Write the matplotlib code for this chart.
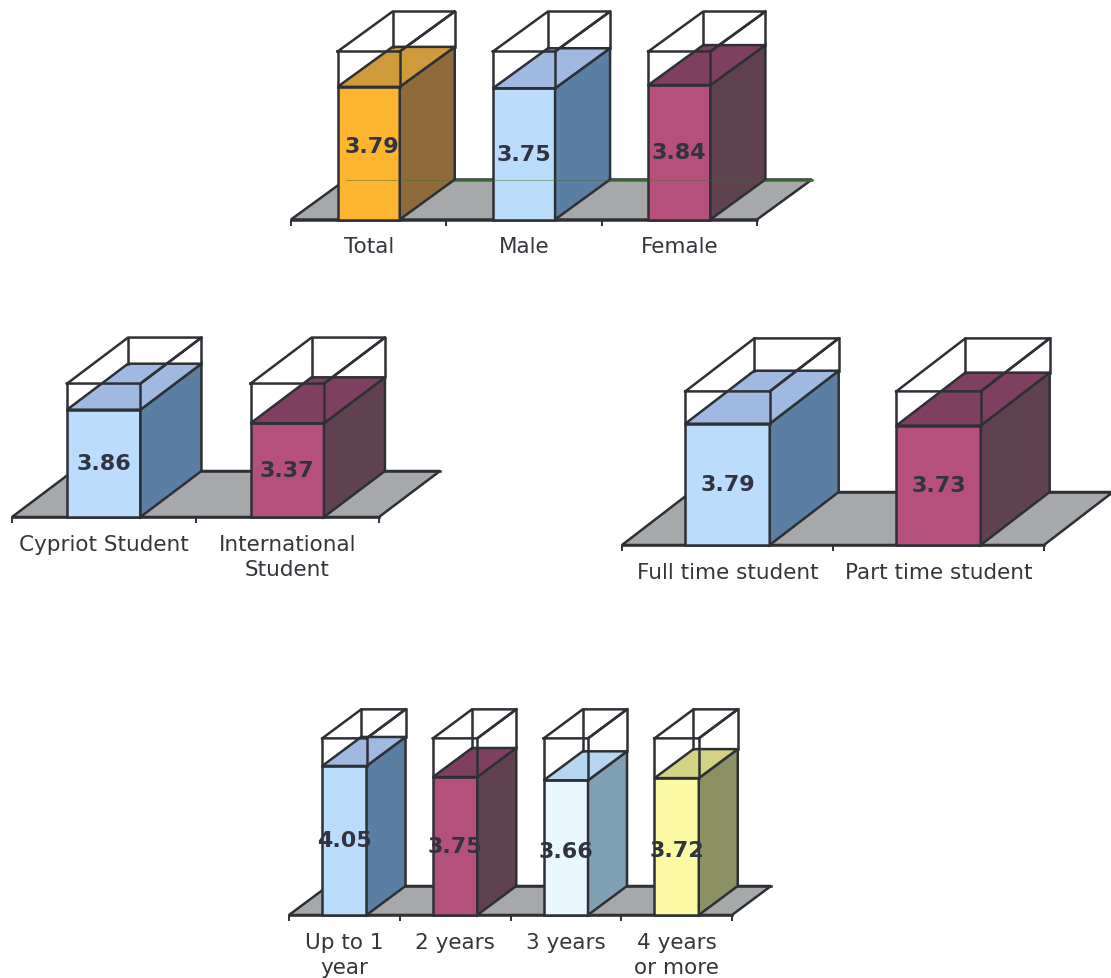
import matplotlib
matplotlib.use('Agg')
import matplotlib.pyplot as plt

LARGURA = 1111
ALTURA = 979
Y_MAX = 4.8

LARANJA = ('#fdb52f', '#cf9a3c', '#8f6b3c')
AZUL = ('#bcdcfb', '#9fb9e0', '#5b7fa3')
VINHO = ('#b54f7c', '#7f3f60', '#5f4150')
CLARO = ('#e9f8ff', '#b4d6ee', '#7f9fb3')
AMARELO = ('#fbf9a3', '#d4d285', '#8b9163')

geral_nomes = ['Total', 'Male', 'Female']
geral_valores = [3.79, 3.75, 3.84]
geral_cores = [LARANJA, AZUL, VINHO]

origem_nomes = ['Cypriot Student', 'International\nStudent']
origem_valores = [3.86, 3.37]
origem_cores = [AZUL, VINHO]

regime_nomes = ['Full time student', 'Part time student']
regime_valores = [3.79, 3.73]
regime_cores = [AZUL, VINHO]

anos_nomes = ['Up to 1\nyear', '2 years', '3 years', '4 years\nor more']
anos_valores = [4.05, 3.75, 3.66, 3.72]
anos_cores = [AZUL, VINHO, CLARO, AMARELO]

COR_LINHA = '#2d3035'
COR_CHAO = '#a7a8aa'
COR_TEXTO = '#2f3440'
ESPESSURA = 1.8


def desenhar_barra(ax, x, valor, cores, largura, dx, dy):
    frente, topo, lado = cores
    esq = x - largura / 2
    dir = x + largura / 2
    estilo = dict(edgecolor=COR_LINHA, linewidth=ESPESSURA, clip_on=False, zorder=3)

    ax.fill([esq, dir, dir, esq], [0, 0, valor, valor], facecolor=frente, **estilo)
    ax.fill([dir, dir + dx, dir + dx, dir], [0, dy, valor + dy, valor],
            facecolor=lado, **estilo)
    ax.fill([esq, dir, dir + dx, esq + dx],
            [valor, valor, valor + dy, valor + dy], facecolor=topo, **estilo)

    # caixa vazia acima da barra, ate o limite do eixo
    linha = dict(color=COR_LINHA, linewidth=ESPESSURA, clip_on=False, zorder=4,
                 solid_capstyle='projecting')
    ax.plot([esq, dir, dir + dx, esq + dx, esq],
            [Y_MAX, Y_MAX, Y_MAX + dy, Y_MAX + dy, Y_MAX], **linha)
    ax.plot([dir, dir + dx], [Y_MAX, Y_MAX + dy], **linha)
    ax.plot([esq, esq], [valor, Y_MAX], **linha)
    ax.plot([dir, dir], [valor, Y_MAX], **linha)
    ax.plot([esq + dx, esq + dx], [valor + dy, Y_MAX + dy], **linha)
    ax.plot([dir + dx, dir + dx], [valor + dy, Y_MAX + dy], **linha)


def grafico(nomes, valores, cores, esquerda, direita, base, unidade, prof_x, prof_y,
            desvios=None, cor_fundo=COR_LINHA):
    n = len(valores)
    passo = (direita - esquerda) / n
    dx = prof_x / passo
    dy = prof_y / unidade

    # eixo em pixels: a base fica no zero e uma unidade vale "unidade" pixels
    larg_px = direita - esquerda + prof_x
    alt_px = (Y_MAX * unidade) + prof_y
    ax = fig.add_axes([esquerda / LARGURA, (ALTURA - base) / ALTURA,
                       larg_px / LARGURA, alt_px / ALTURA])
    ax.set_xlim(0, n + dx)
    ax.set_ylim(0, Y_MAX + dy)
    ax.patch.set_visible(False)

    for lado in ['left', 'right', 'top']:
        ax.spines[lado].set_visible(False)
    ax.spines['bottom'].set_bounds(0, n)
    ax.spines['bottom'].set_color(COR_LINHA)
    ax.spines['bottom'].set_linewidth(ESPESSURA)
    ax.set_yticks([])
    ax.set_xticks(range(n + 1))
    ax.set_xticklabels([])
    ax.set_xticks([i + 0.5 for i in range(n)], minor=True)
    ax.set_xticklabels(nomes, minor=True, fontsize=15.5, color='#33363b',
                       linespacing=1.32)
    ax.tick_params(axis='x', which='major', length=4.5, width=1.4, color=COR_LINHA)
    ax.tick_params(axis='x', which='minor', length=0, pad=12)

    # chao em perspectiva
    ax.fill([0, n, n + dx, dx], [0, 0, dy, dy], facecolor=COR_CHAO,
            edgecolor=COR_LINHA, linewidth=ESPESSURA, clip_on=False, zorder=1)
    ax.plot([dx, n + dx], [dy, dy], color=cor_fundo, linewidth=ESPESSURA,
            clip_on=False, zorder=2)

    for i, valor in enumerate(valores):
        desenhar_barra(ax, i + 0.5, valor, cores[i], 0.4, dx, dy)

    if cor_fundo != COR_LINHA:
        ax.plot([dx, n + dx], [dy, dy], color=cor_fundo, linewidth=0.7, alpha=0.45,
                clip_on=False, zorder=5)

    for i, valor in enumerate(valores):
        desvio_x, desvio_y = desvios[i] if desvios else (0, 0)
        ax.text(i + 0.5 + desvio_x, valor / 2 + desvio_y, f'{valor:.2f}', ha='center',
                va='center', fontsize=16, fontweight='bold', color=COR_TEXTO, zorder=6)


fig = plt.figure(figsize=(LARGURA / 100, ALTURA / 100), dpi=100, facecolor='white')

grafico(geral_nomes, geral_valores, geral_cores, 291, 757, 220.5, 35, 55, 40,
        desvios=[(0.02, 0.2), (0, 0), (0, 0)], cor_fundo='#3f6b35')
grafico(origem_nomes, origem_valores, origem_cores, 12, 379, 518, 27.8, 61, 46)
grafico(regime_nomes, regime_valores, regime_cores, 622, 1044, 546, 32, 69, 53)
grafico(anos_nomes, anos_valores, anos_cores, 289, 732, 916, 36.8, 39, 29,
        desvios=[(0, 0), (0, 0), (0, -0.1), (0, -0.1)])

fig.savefig('out.png', dpi=100)
